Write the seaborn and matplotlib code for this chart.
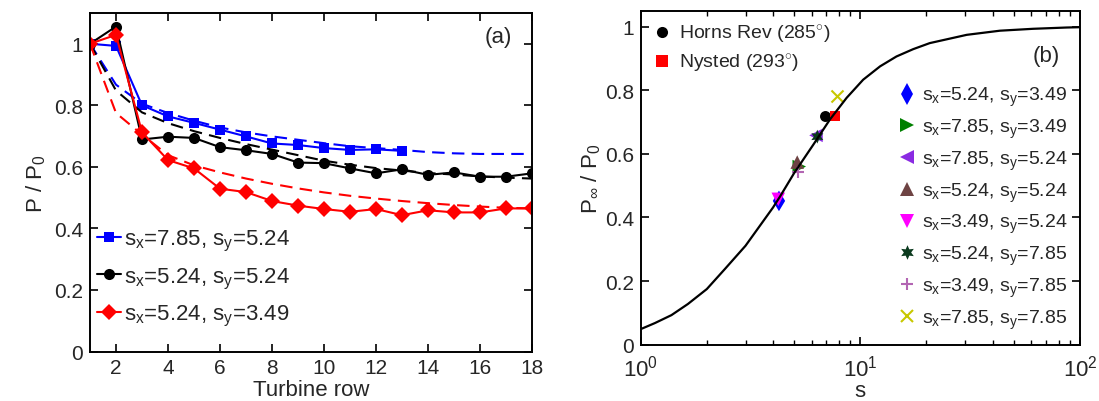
import numpy as np
import pandas as pd
import matplotlib
matplotlib.use("Agg")
import matplotlib.pyplot as plt
from matplotlib.lines import Line2D
from matplotlib.ticker import FixedLocator, FuncFormatter, LogLocator, NullFormatter
import seaborn as sns

# ---------------- panel (a): power ratio along the farm ----------------
rows = list(range(1, 19))

# measured power ratio per turbine row
p_785_524 = [1.000, 0.993, 0.800, 0.764, 0.743, 0.721, 0.699, 0.676, 0.671,
             0.661, 0.655, 0.657, 0.652]
p_524_524 = [1.000, 1.056, 0.689, 0.698, 0.694, 0.664, 0.654, 0.642, 0.614,
             0.612, 0.595, 0.579, 0.592, 0.574, 0.582, 0.568, 0.568, 0.579]
p_524_349 = [1.000, 1.029, 0.712, 0.622, 0.595, 0.529, 0.518, 0.489, 0.474,
             0.463, 0.454, 0.463, 0.443, 0.459, 0.452, 0.452, 0.465, 0.465]

# model prediction per turbine row
m_785_524 = [1.000, 0.867, 0.805, 0.775, 0.750, 0.728, 0.712, 0.699, 0.688,
             0.677, 0.667, 0.661, 0.655, 0.648, 0.644, 0.642, 0.642, 0.642]
m_524_524 = [1.000, 0.848, 0.777, 0.742, 0.716, 0.694, 0.674, 0.656, 0.638,
             0.620, 0.607, 0.596, 0.588, 0.580, 0.575, 0.569, 0.565, 0.562]
m_524_349 = [1.000, 0.775, 0.705, 0.638, 0.605, 0.582, 0.562, 0.545, 0.530,
             0.517, 0.506, 0.497, 0.489, 0.482, 0.476, 0.471, 0.467, 0.465]

labels_a = [r"s$_\mathregular{x}$=7.85, s$_\mathregular{y}$=5.24",
            r"s$_\mathregular{x}$=5.24, s$_\mathregular{y}$=5.24",
            r"s$_\mathregular{x}$=5.24, s$_\mathregular{y}$=3.49"]

# ---------------- panel (b): asymptotic power ratio vs spacing ----------------
curve_s = [1.0, 1.16, 1.38, 1.64, 2.0, 2.41, 3.0, 3.54, 4.0, 4.31, 5.0,
           6.11, 7.27, 8.66, 10.3, 12.3, 14.6, 17.4, 20.7, 30.5, 43.2,
           61.2, 86.9, 100.0]
curve_p = [0.049, 0.068, 0.093, 0.128, 0.175, 0.237, 0.311, 0.380, 0.431,
           0.466, 0.540, 0.629, 0.708, 0.776, 0.833, 0.875, 0.906, 0.929,
           0.948, 0.974, 0.987, 0.993, 0.997, 0.998]

farm_names = ["Horns Rev (285$^{\\circ}$)", "Nysted (293$^{\\circ}$)"]
farm_s = [6.90, 7.67]
farm_p = [0.720, 0.720]

case_names = [r"s$_\mathregular{x}$=5.24, s$_\mathregular{y}$=3.49",
              r"s$_\mathregular{x}$=7.85, s$_\mathregular{y}$=3.49",
              r"s$_\mathregular{x}$=7.85, s$_\mathregular{y}$=5.24",
              r"s$_\mathregular{x}$=5.24, s$_\mathregular{y}$=5.24",
              r"s$_\mathregular{x}$=3.49, s$_\mathregular{y}$=5.24",
              r"s$_\mathregular{x}$=5.24, s$_\mathregular{y}$=7.85",
              r"s$_\mathregular{x}$=3.49, s$_\mathregular{y}$=7.85",
              r"s$_\mathregular{x}$=7.85, s$_\mathregular{y}$=7.85"]
case_s = [4.26, 5.27, 6.28, 5.16, 4.23, 6.37, 5.21, 7.80]
case_p = [0.452, 0.560, 0.658, 0.574, 0.457, 0.654, 0.542, 0.781]

# ---------------- style ----------------
sns.set_theme(style="ticks")
plt.rcParams["font.family"] = ["Liberation Sans", "DejaVu Sans"]
plt.rcParams["mathtext.fontset"] = "custom"
plt.rcParams["mathtext.rm"] = "Liberation Sans"
plt.rcParams["mathtext.it"] = "Liberation Sans:italic"
plt.rcParams["mathtext.bf"] = "Liberation Sans:bold"
plt.rcParams["axes.linewidth"] = 1.4
plt.rcParams["axes.edgecolor"] = "black"

fig = plt.figure(figsize=(10.99, 4.02), dpi=100)
ax1 = fig.add_axes([0.0819, 0.1231, 0.4022, 0.8421])
ax2 = fig.add_axes([0.5830, 0.1400, 0.3997, 0.8310])

colors_a = ["#0000ff", "#000000", "#ff0000"]
markers_a = ["s", "o", "D"]
msizes_a = [7, 8, 8]
meas = [p_785_524, p_524_524, p_524_349]
model = [m_785_524, m_524_524, m_524_349]

handles_a = []
for vals, mod, c, mk, ms, lab in zip(meas, model, colors_a, markers_a, msizes_a, labels_a):
    dm = pd.DataFrame({"row": rows, "p": mod})
    sns.lineplot(data=dm, x="row", y="p", ax=ax1, color=c, lw=1.5,
                 linestyle=(0, (6, 3.5)), legend=False)
    d = pd.DataFrame({"row": rows[:len(vals)], "p": vals})
    sns.lineplot(data=d, x="row", y="p", ax=ax1, color=c, lw=1.5,
                 marker=mk, markersize=ms, markeredgewidth=0, legend=False)
    handles_a.append(Line2D([], [], color=c, lw=1.5, marker=mk, markersize=ms,
                            markeredgewidth=0, label=lab))

ax1.set_xlim(1, 18)
ax1.set_ylim(0, 1.1)
ax1.xaxis.set_major_locator(FixedLocator([2, 4, 6, 8, 10, 12, 14, 16, 18]))
ax1.yaxis.set_major_locator(FixedLocator([0, 0.2, 0.4, 0.6, 0.8, 1.0]))
ax1.yaxis.set_major_formatter(FuncFormatter(lambda v, p: f"{v:g}"))
ax1.set_xlabel("Turbine row", fontsize=16, labelpad=1)
ax1.set_ylabel(r"P / P$_\mathregular{0}$", fontsize=16, labelpad=4)
ax1.text(0.955, 0.93, "(a)", transform=ax1.transAxes, fontsize=16,
         ha="right", va="center")
ax1.legend(handles=handles_a, loc="lower left", bbox_to_anchor=(-0.015, 0.03),
           frameon=False, fontsize=16, handlelength=1.1, handletextpad=0.15,
           labelspacing=0.55, borderaxespad=0.2)

# panel (b)
case_colors = ["#0000ff", "#008000", "#8a2be2", "#6e4343", "#ff00ff",
               "#0b3a1e", "#b365b3", "#c8c800"]
case_markers = ["d", ">", "<", "^", "v", (6, 1, 0), "+", "x"]
case_sizes = [110, 95, 95, 95, 95, 100, 75, 75]

for s_, p_, c, mk, sz in zip(case_s, case_p, case_colors, case_markers, case_sizes):
    lw = 1.5 if mk in ("+", "x") else 0
    sns.scatterplot(x=[s_], y=[p_], ax=ax2, color=c, marker=mk, s=sz,
                    linewidth=lw, edgecolor=c if lw else "none", legend=False,
                    zorder=2)

farm_colors = ["#000000", "#ff0000"]
farm_markers = ["o", "s"]
for s_, p_, c, mk in zip(farm_s, farm_p, farm_colors, farm_markers):
    sns.scatterplot(x=[s_], y=[p_], ax=ax2, color=c, marker=mk, s=62,
                    linewidth=0, legend=False, zorder=2)

dc = pd.DataFrame({"s": curve_s, "p": curve_p})
sns.lineplot(data=dc, x="s", y="p", ax=ax2, color="black", lw=1.6,
             legend=False, zorder=3)

ax2.set_xscale("log")
ax2.set_xlim(1, 100)
ax2.set_ylim(0, 1.05)
ax2.xaxis.set_major_locator(LogLocator(base=10, numticks=5))
ax2.xaxis.set_minor_locator(LogLocator(base=10, subs=np.arange(2, 10), numticks=20))
ax2.xaxis.set_minor_formatter(NullFormatter())
ax2.yaxis.set_major_locator(FixedLocator([0, 0.2, 0.4, 0.6, 0.8, 1.0]))
ax2.yaxis.set_major_formatter(FuncFormatter(lambda v, p: f"{v:g}"))
ax2.set_xlabel("s", fontsize=16, labelpad=0)
ax2.set_ylabel(r"P$_\mathregular{\infty}$ / P$_\mathregular{0}$", fontsize=16, labelpad=1)
ax2.text(0.955, 0.865, "(b)", transform=ax2.transAxes, fontsize=16,
         ha="right", va="center")

farm_handles = [Line2D([], [], ls="none", marker=mk, color=c, markersize=8,
                       markeredgewidth=0, label=n)
                for n, c, mk in zip(farm_names, farm_colors, farm_markers)]
leg1 = ax2.legend(handles=farm_handles, loc="upper left",
                  bbox_to_anchor=(0.0, 1.005), frameon=False, fontsize=14,
                  handlelength=0.8, handletextpad=0.45, labelspacing=0.35,
                  borderaxespad=0.3)
ax2.add_artist(leg1)

case_handles = []
for n, c, mk, sz in zip(case_names, case_colors, case_markers, case_sizes):
    mew = 1.5 if mk in ("+", "x") else 0
    case_handles.append(Line2D([], [], ls="none", marker=mk, color=c,
                               markersize=np.sqrt(sz) * 1.05, markeredgewidth=mew,
                               label=n))
ax2.legend(handles=case_handles, loc="upper right", bbox_to_anchor=(0.99, 0.80),
           frameon=False, fontsize=14, handlelength=0.8, handletextpad=0.4,
           labelspacing=0.44, borderaxespad=0.0)

for ax in (ax1, ax2):
    ax.tick_params(axis="both", which="major", direction="in", length=6,
                   width=1.2, labelsize=15, top=True, right=True, color="black",
                   pad=5)
    ax.tick_params(axis="both", which="minor", direction="in", length=3.5,
                   width=1.0, top=True, right=True, color="black")
    for sp in ax.spines.values():
        sp.set_visible(True)
        sp.set_color("black")
        sp.set_linewidth(1.4)
ax2.tick_params(axis="x", which="major", labelsize=16, pad=7)

fig.savefig("out.png", dpi=100)
